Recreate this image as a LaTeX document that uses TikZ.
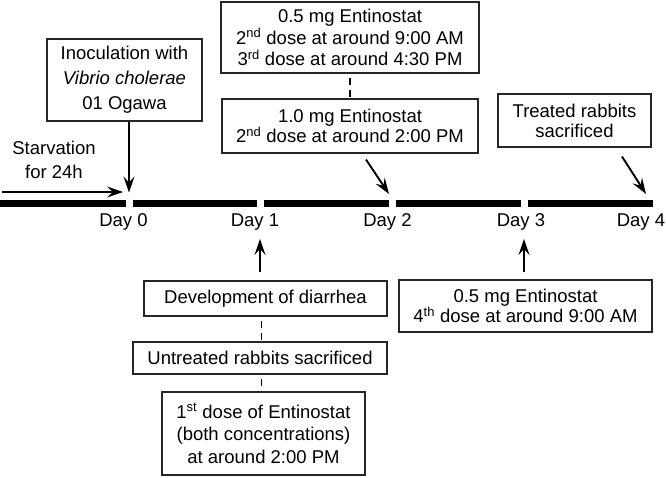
\documentclass[tikz,border=0pt]{standalone}
\usepackage{fontspec}
\setmainfont{Liberation Sans}
\usetikzlibrary{arrows.meta,calc}
\begin{document}
\begin{tikzpicture}[x=1pt,y=-1pt,
  box/.style={draw=black!85, line width=1.1pt, inner sep=0pt, align=center},
  arr/.style={line width=1.9pt, -{Stealth[length=16pt,width=11pt,inset=6pt]}},
  dsh/.style={line width=1.7pt, dash pattern=on 7pt off 5pt, dash phase=8pt},
  tbar/.style={line width=6.5pt},
  lbl/.style={font=\fontsize{18.5}{22}\selectfont, inner sep=0pt, anchor=base}]
\useasboundingbox (0,0) rectangle (666,478);
% timeline
\coordinate (t0) at (0,203.5);
\coordinate (d0) at (129,203.5);
\coordinate (d1) at (260,203.5);
\coordinate (d2) at (392,203.5);
\coordinate (d3) at (524,203.5);
\coordinate (d4) at (653,203.5);
\draw[tbar] (t0) -- ([xshift=-3.5pt]d0);
\draw[tbar] ([xshift=3.5pt]d0) -- ([xshift=-3.5pt]d1);
\draw[tbar] ([xshift=3.5pt]d1) -- ([xshift=-3.5pt]d2);
\draw[tbar] ([xshift=3.5pt]d2) -- ([xshift=-3.5pt]d3);
\draw[tbar] ([xshift=3.5pt]d3) -- (d4);
% day labels
\node[lbl] (l0) at (123.5,227) {Day 0};
\node[lbl] (l1) at (255,227) {Day 1};
\node[lbl] (l2) at (387.5,227) {Day 2};
\node[lbl] (l3) at (521,227) {Day 3};
\node[lbl] (l4) at (641,227) {Day 4};
% upper boxes
\node[box, minimum width=155pt, minimum height=82pt, font=\fontsize{18.5}{25}\selectfont] (inoc) at (124.5,80)
  {Inoculation with\\\textit{Vibrio cholerae}\\01 Ogawa};
\node[box, minimum width=258pt, minimum height=71pt, font=\fontsize{18.5}{21.5}\selectfont] (A) at (350,37.5)
  {0.5 mg Entinostat\\2\textsuperscript{nd} dose at around 9:00 AM\\3\textsuperscript{rd} dose at around 4:30 PM};
\node[box, minimum width=256pt, minimum height=54pt, font=\fontsize{18.5}{20}\selectfont] (B) at (350,126)
  {1.0 mg Entinostat\\2\textsuperscript{nd} dose at around 2:00 PM};
\node[box, minimum width=153pt, minimum height=53pt, font=\fontsize{18.5}{20}\selectfont] (T) at (574.5,120.5)
  {Treated rabbits\\sacrificed};
\node[align=center, inner sep=0pt, font=\fontsize{18.5}{24}\selectfont] (starv) at (54,160)
  {Starvation\\for 24h};
% lower boxes
\node[box, minimum width=243pt, minimum height=35pt, font=\fontsize{18.5}{21}\selectfont] (dev) at (265.5,298.5)
  {Development of diarrhea};
\node[box, minimum width=254pt, minimum height=32pt, font=\fontsize{18.5}{21}\selectfont] (untr) at (260,358)
  {Untreated rabbits sacrificed};
\node[box, minimum width=203pt, minimum height=83pt, font=\fontsize{18.5}{22.5}\selectfont] (first) at (263.5,433.5)
  {1\textsuperscript{st} dose of Entinostat\\(both concentrations)\\at around 2:00 PM};
\node[box, minimum width=253pt, minimum height=52pt, font=\fontsize{18.5}{20}\selectfont] (fourth) at (525.5,306)
  {0.5 mg Entinostat\\4\textsuperscript{th} dose at around 9:00 AM};
% connectors
\coordinate (s0) at (2,192);
\coordinate (s1) at (123,192);
\draw[arr] (s0) -- (s1);
\draw[arr] (inoc.south -| d0) -- ([yshift=11pt]d0);
\draw[dsh] (A.south) -- (B.north);
\draw[arr] ($(B.south)+(16,6)$) -- ($(d2)+(-3,-9.5)$);
\draw[arr] ($(T.south)+(47.5,9)$) -- ($(d4)+(-7,-9.5)$);
\draw[arr] ($(dev.north -| d1)+(0,-8)$) -- ($(d1)+(0,35.5)$);
\draw[arr] ($(fourth.north -| d3)+(0,-7)$) -- ($(d3)+(0,35.5)$);
\coordinate (dx) at (261.5,0);
\draw[dsh] (dev.south -| dx) -- (untr.north -| dx);
\draw[dsh] (untr.south -| dx) -- (first.north -| dx);
\end{tikzpicture}
\end{document}
